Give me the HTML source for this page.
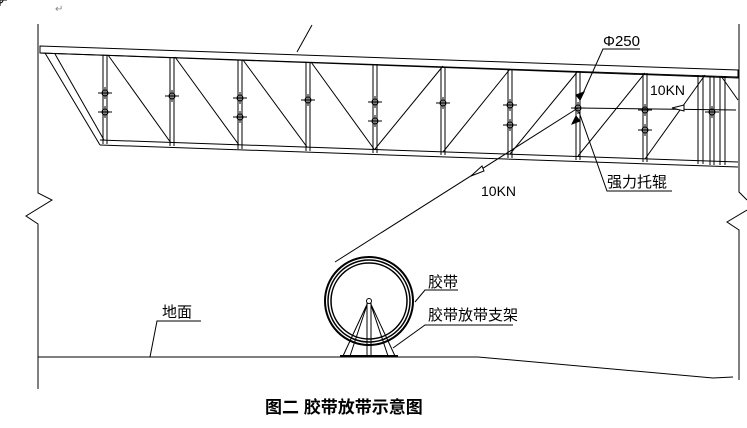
<!DOCTYPE html>
<html><head><meta charset="utf-8"><style>
html,body{margin:0;padding:0;background:#fff;width:747px;height:428px;overflow:hidden}
svg{display:block}
text{font-family:"Liberation Sans","Noto Sans CJK SC",sans-serif;fill:#000}
</style></head><body>
<svg width="747" height="428" viewBox="0 0 747 428" xmlns="http://www.w3.org/2000/svg">
<g stroke="#000" stroke-width="1" fill="none">
<!-- walls -->
<polyline points="38,24 38,193 52,200 26,216 38,224 38,389"/>
<polyline points="739,24 739,192 747,200"/>
<polyline points="747,210 727,222 739,230 739,380"/>
<!-- ground -->
<polyline points="38,357 478,357 713,378 733,377"/>
<!-- top chord -->
<polygon points="40,46 738,70 738,78 40,53"/>
<line x1="40" y1="53" x2="738" y2="77"/>
<!-- bottom chord -->
<line x1="100" y1="140" x2="738" y2="162"/>
<line x1="100" y1="145" x2="738" y2="167"/>
<!-- left end -->
<line x1="45" y1="53" x2="100" y2="145"/>
<line x1="55" y1="54" x2="104" y2="140"/>
<!-- verticals -->
<g>
<path d="M103 55V144M107 55V144"/>
<path d="M170 57V146M174 57V146"/>
<path d="M238 60V149M242 60V149"/>
<path d="M306 62V151M310 62V151"/>
<path d="M373 64V153M377 64V153"/>
<path d="M441 67V155M445 67V155"/>
<path d="M508 69V158M512 69V158"/>
<path d="M576 71V160M580 71V160"/>
<path d="M643 73V162M647 73V162"/>
<path d="M698 75V164M703 75V164M710 76V165M714 76V165M720 76V165M725 76V165"/>
</g>
<!-- diagonals -->
<line x1="108" y1="55" x2="171" y2="143"/>
<line x1="175" y1="57" x2="239" y2="145"/>
<line x1="243" y1="60" x2="307" y2="147"/>
<line x1="311" y1="62" x2="374" y2="149"/>
<line x1="375" y1="149" x2="443" y2="66"/>
<line x1="443" y1="152" x2="510" y2="69"/>
<line x1="510" y1="154" x2="578" y2="71"/>
<line x1="578" y1="156" x2="645" y2="73"/>
<line x1="645" y1="159" x2="705" y2="75"/>
<line x1="721" y1="76" x2="738" y2="100"/>
<!-- leader top -->
<line x1="297" y1="52" x2="312" y2="25"/>
<!-- cable -->
<line x1="578" y1="108" x2="335" y2="262"/>
<line x1="578" y1="108" x2="736" y2="110"/>
<!-- leaders -->
<polyline points="580,100 603,49 640,49"/>
<polyline points="579,112 607,191 672,191"/>
<polyline points="150,357 157,321 201,321"/>
<polyline points="415,302 425,290 458,290"/>
<polyline points="393,348 425,325 513,325"/>
<!-- ring -->
<circle cx="369" cy="301" r="44" stroke-width="2"/>
<circle cx="369" cy="301" r="41" stroke-width="1.5"/>
<circle cx="369" cy="301" r="38" stroke-width="1.5"/>
<!-- stand -->
<path d="M367 302V356M371 302V356M369 300L343 356M369 300L395 356M367 305L350 356M371 305L388 356"/>
<circle cx="369" cy="301" r="2.5" fill="#fff"/>
<line x1="340" y1="356" x2="398" y2="356" stroke-width="2"/>
</g>
<!-- bolts -->
<g stroke="#000" stroke-width="1" fill="none">
<g id="b"><circle cx="0" cy="0" r="3"/><path d="M-7 0H7M0 -6V6"/></g>
</g>
<g stroke="#000" stroke-width="1" fill="none">
<use href="#b" x="105" y="93"/><use href="#b" x="105" y="112"/>
<use href="#b" x="172" y="96"/>
<use href="#b" x="240" y="98"/><use href="#b" x="240" y="117"/>
<use href="#b" x="308" y="100"/>
<use href="#b" x="375" y="102"/><use href="#b" x="375" y="121"/>
<use href="#b" x="443" y="103"/>
<use href="#b" x="510" y="105"/><use href="#b" x="510" y="125"/>
<use href="#b" x="578" y="108"/>
<use href="#b" x="645" y="110"/><use href="#b" x="645" y="130"/>
<use href="#b" x="712" y="112"/>
</g>
<!-- arrows -->
<g fill="#000" stroke="#000">
<polygon points="471,176 482,166 484,171" fill="#fff"/>
<polygon points="672,108 684,105 684,111" fill="#fff"/>
<polygon points="580,100 584,92 576,95"/>
<polygon points="576,116 572,124 580,121"/>
</g>
<text x="603" y="46" font-size="15">Φ250</text>
<text x="650" y="95" font-size="14">10KN</text>
<text x="481" y="196" font-size="14">10KN</text>
<text x="607" y="187" font-size="15">强力托辊</text>
<text x="428" y="287" font-size="15">胶带</text>
<text x="428" y="320" font-size="15">胶带放带支架</text>
<text x="162" y="317" font-size="15">地面</text>
<text x="265" y="413" font-size="17" font-weight="bold">图二 胶带放带示意图</text>
<text x="55" y="12" font-size="10" fill="#888" style="fill:#888">↵</text>
</svg>
</body></html>
